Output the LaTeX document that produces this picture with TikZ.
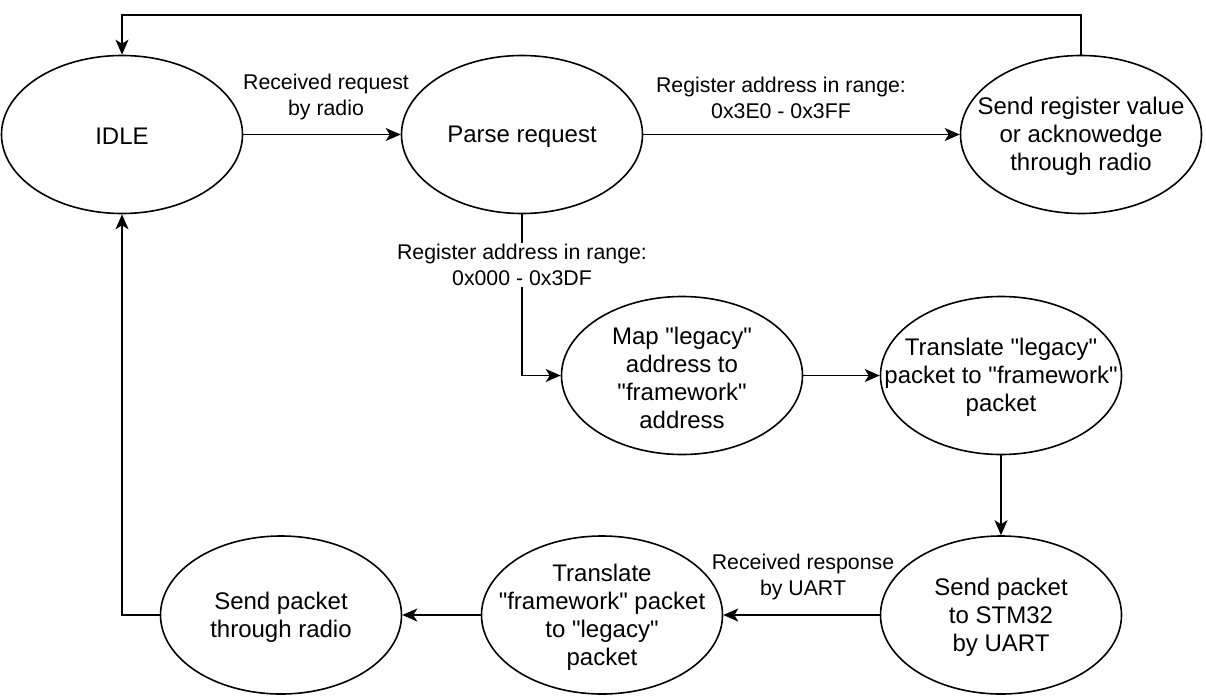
\documentclass[tikz,border=0pt]{standalone}
\usepackage{fontspec}
\setmainfont{Liberation Sans}[Ligatures=TeXOff]
\usetikzlibrary{shapes.geometric,arrows.meta}
\begin{document}
\begin{tikzpicture}[x=1pt,y=-1pt,
  st/.style={ellipse,draw=black,line width=1.6pt,minimum width=241pt,minimum height=158pt,inner sep=0pt},
  txt/.style={align=center,font=\fontsize{24}{28}\selectfont,inner sep=0pt},
  lbl/.style={align=center,font=\fontsize{21.3}{26}\selectfont,inner sep=1pt},
  arr/.style={line width=1.6pt,-{Stealth[length=15pt,width=13pt,inset=4pt]}}]
\useasboundingbox (0,0) rectangle (1206,696);
\node[st] (idle) at (122,134.5) {};
\node[txt] at ([yshift=-2pt]idle.center) {IDLE};
\node[st] (parse) at (522,134.5) {};
\node[txt] at ([yshift=-2pt]parse.center) {Parse request};
\node[st] (send) at (1081,134.5) {};
\node[txt] at ([yshift=-2pt]send.center) {Send register value\\or acknowedge\\through radio};
\node[st] (map) at (682,375.5) {};
\node[txt] at ([yshift=-2pt]map.center) {Map "legacy"\\address to\\"framework"\\address};
\node[st] (trl) at (1001,375.5) {};
\node[txt] at ([yshift=-2pt]trl.center) {Translate "legacy"\\packet to "framework"\\packet};
\node[st] (stm) at (1001,615) {};
\node[txt] at ([yshift=-2pt]stm.center) {Send packet\\to STM32\\by UART};
\node[st] (trf) at (602,615) {};
\node[txt] at ([yshift=-2pt]trf.center) {Translate\\"framework" packet\\to "legacy"\\packet};
\node[st] (radio) at (281,615) {};
\node[txt] at ([yshift=-2pt]radio.center) {Send packet\\through radio};
\coordinate (top) at (600,15);
% connectors
\draw[arr] (idle.east) -- (parse.west);
\node[lbl] (l1) at (326,97) {Received request\\by radio};
\draw[arr] (parse.east) -- (send.west);
\node[lbl] (l2) at (781,98) {Register address in range:\\0x3E0 - 0x3FF};
\draw[arr] (send.north) -- (send.north |- top) -| (idle.north);
\draw[arr] (parse.south) |- (map.west);
\node[lbl,fill=white] (l3) at (522,265) {Register address in range:\\0x000 - 0x3DF};
\draw[arr] (map.east) -- (trl.west);
\draw[arr] (trl.south) -- (stm.north);
\draw[arr] (stm.west) -- (trf.east);
\node[lbl] (l4) at (803,577) {Received response\\by UART};
\draw[arr] (trf.west) -- (radio.east);
\draw[arr] (radio.west) -| (idle.south);
\end{tikzpicture}
\end{document}
